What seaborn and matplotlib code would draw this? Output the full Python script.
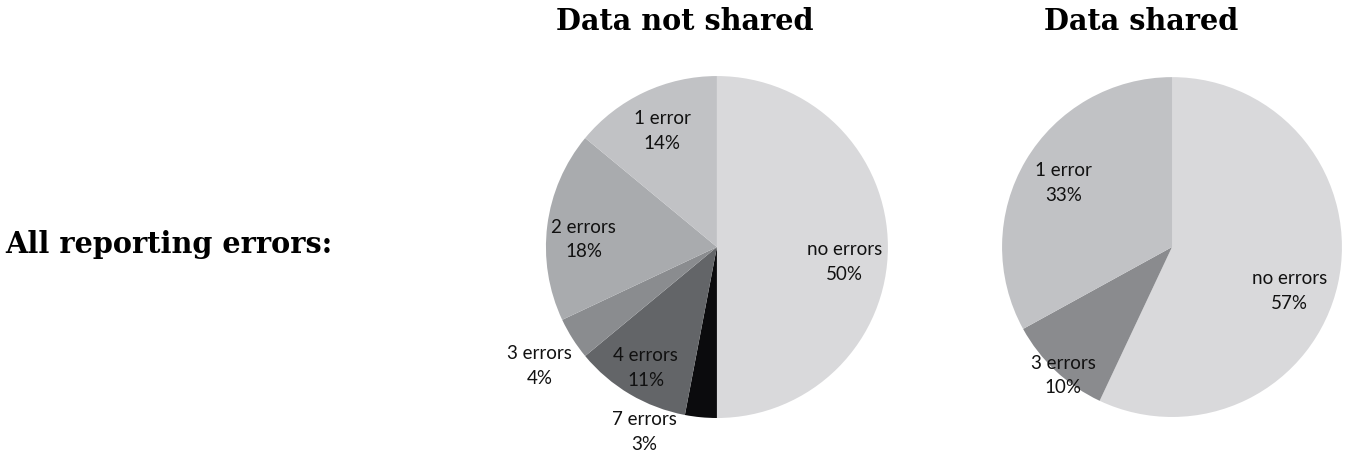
import numpy as np
import matplotlib
matplotlib.use("Agg")
import matplotlib.pyplot as plt
import seaborn as sns

sns.set_theme(style="white")
plt.rcParams['font.family'] = ['Lato', 'DejaVu Sans']

# data
left_labels = ["no errors", "7 errors", "4 errors", "3 errors", "2 errors", "1 error"]
left_values = [50, 3, 11, 4, 18, 14]
right_labels = ["no errors", "3 errors", "1 error"]
right_values = [57, 10, 33]

# style
left_colors = ["#d9d9db", "#0b0b0d", "#636568", "#8a8c8f", "#a9abae", "#c1c2c5"]
right_colors = ["#d9d9db", "#8a8b8e", "#c1c2c5"]
# label placement per slice: (radius fraction, angle shift in degrees)
left_place = [(0.75, -6.7), (1.16, -16), (0.82, 0), (1.25, 1.5), (0.78, 4), (0.75, 0)]
right_place = [(0.74, -8), (0.99, 3), (0.74, 0)]
title_font = dict(family="DejaVu Serif", weight="bold", fontsize=20.7, color="black")

fig = plt.figure(figsize=(13.5, 4.74), dpi=100)


def draw_pie(ax, values, labels, colors, place):
    wedges, _ = ax.pie(values, colors=colors, startangle=90, counterclock=False,
                       wedgeprops=dict(linewidth=0))
    ax.set_xlim(-1, 1)
    ax.set_ylim(-1, 1)
    ax.set_aspect("equal")
    for w, lab, v, (r, shift) in zip(wedges, labels, values, place):
        ang = np.deg2rad((w.theta1 + w.theta2) / 2 + shift)
        ax.text(r * np.cos(ang), r * np.sin(ang), f"{lab}\n{v}%",
                ha="center", va="center", fontsize=13.5, linespacing=1.55,
                color="#111111")


ax1 = fig.add_axes([0.4044, 0.1181, 0.2533, 0.7215])
draw_pie(ax1, left_values, left_labels, left_colors, left_place)

ax2 = fig.add_axes([0.7422, 0.1203, 0.2519, 0.7170])
draw_pie(ax2, right_values, right_labels, right_colors, right_place)

fig.text(0.507, 0.955, "Data not shared", ha="center", va="center", **title_font)
fig.text(0.845, 0.955, "Data shared", ha="center", va="center", **title_font)
fig.text(0.004, 0.485, "All reporting errors:", ha="left", va="center", **title_font)

fig.savefig("out.png", dpi=100, facecolor="white")
